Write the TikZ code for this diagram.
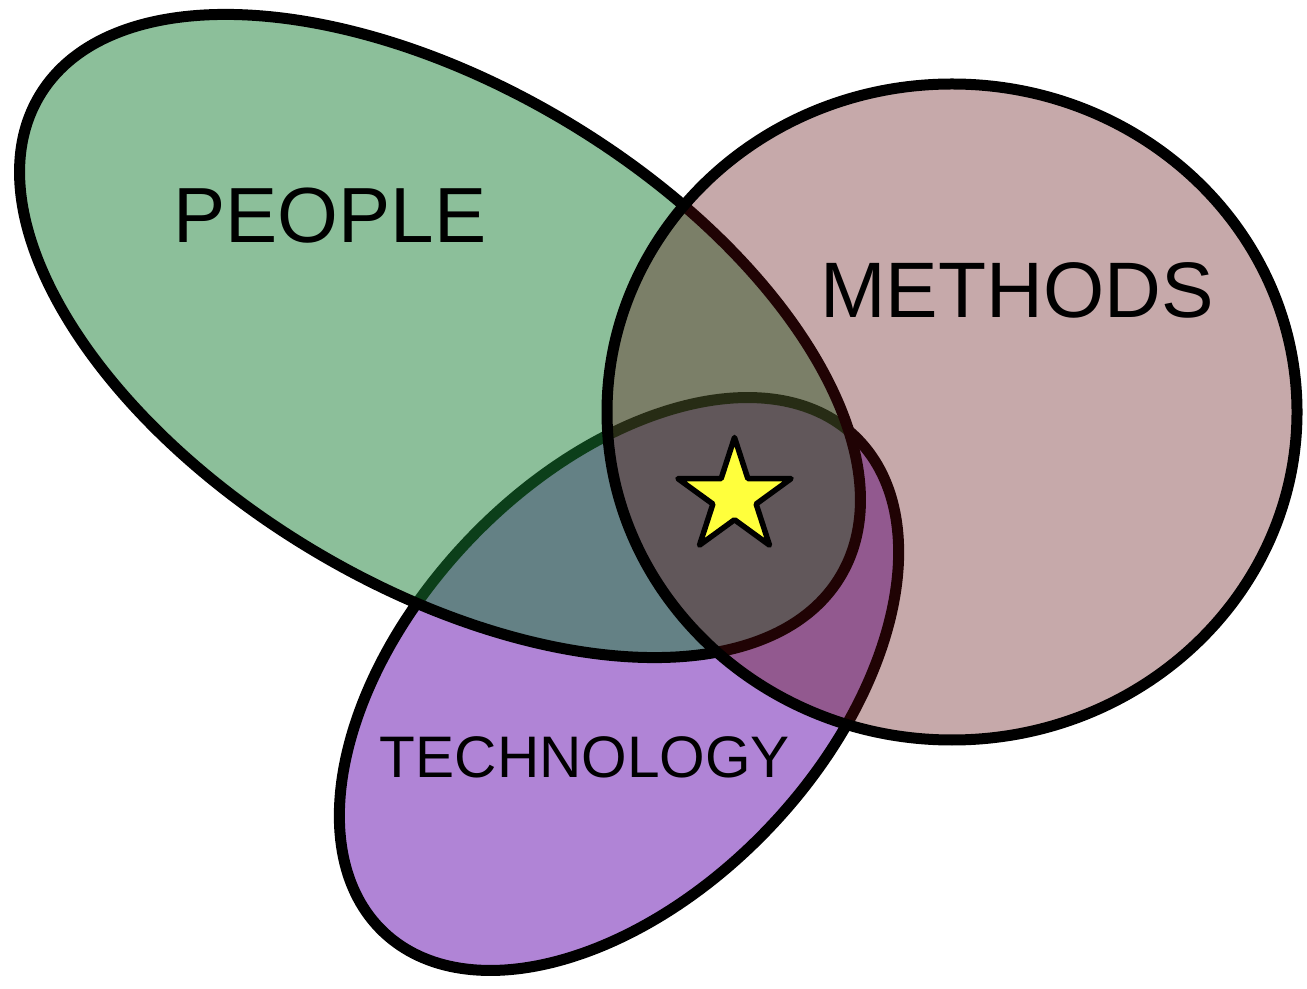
\documentclass[tikz,border=0pt]{standalone}
\usepackage{fontspec}
\setmainfont{Liberation Sans}
\usepackage{tikz}
\usetikzlibrary{shapes.geometric,positioning}
\definecolor{peoplegreen}{RGB}{25,127,53}
\definecolor{methodred}{RGB}{92,9,12}
\definecolor{techpurple}{RGB}{176,132,214}
\definecolor{staryellow}{RGB}{255,255,60}

\begin{document}
\begin{tikzpicture}[x=1bp, y=1bp, line width=11bp,
   setlabel/.style={inner sep=0pt, anchor=base, text=black}]
   \useasboundingbox (0,0) rectangle (1307,988);
   % the three sets, bottom one first
   \draw [fill=techpurple, rotate around={46.5:(619,304)}] (619,304) ellipse [x radius=342, y radius=208];
   \draw [fill=peoplegreen, fill opacity=0.5, rotate around={-31:(440,652)}] (440,652) ellipse [x radius=467, y radius=249];
   \draw [fill=methodred, fill opacity=0.35] (952,576) ellipse [x radius=345, y radius=328];
   \begin{scope}[every node/.style={setlabel}]
    \node (people) [font=\fontsize{78.5}{90}\selectfont] at (330,745) {PEOPLE};
    \node (methods) [font=\fontsize{79}{90}\selectfont] at (1017,670) {METHODS};
    \node (tech) [font=\fontsize{58.8}{70}\selectfont] at (585,211) {TECHNOLOGY};
   \end{scope}
   \node (goal) [star, star points=5, star point ratio=2.618, minimum size=119bp, inner sep=0pt,
      draw=black, line width=5.5bp, line join=round, fill=staryellow] at (734.5,491) {};
\end{tikzpicture}
\end{document}
